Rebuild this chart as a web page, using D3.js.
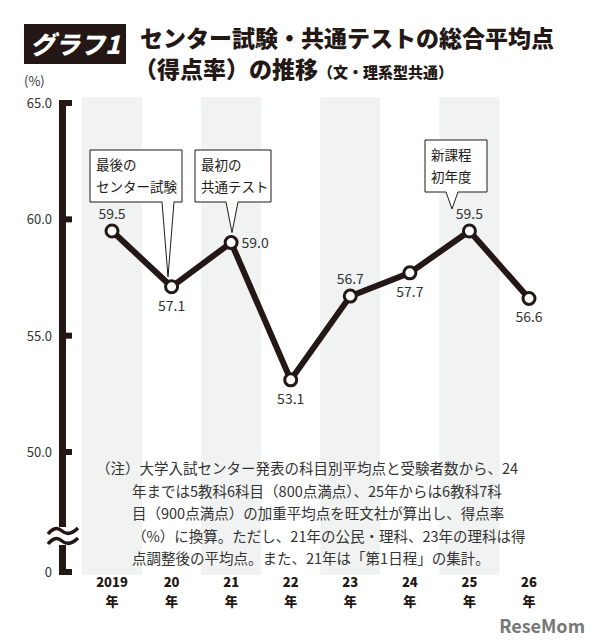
<!DOCTYPE html>
<html><head><meta charset="utf-8">
<script src="https://cdn.jsdelivr.net/npm/d3@7"></script>
<style>body{margin:0;background:#fff}text{font-family:"Noto Sans CJK JP","Noto Sans",sans-serif}</style>
</head><body><div id="vis"></div>
<script>
// data
const years = ['2019', '20', '21', '22', '23', '24', '25', '26'];
const values = [59.5, 57.1, 59.0, 53.1, 56.7, 57.7, 59.5, 56.6];
const labelPos = ['above', 'below', 'right', 'below', 'above', 'below', 'above', 'below'];
const yTicks = [65, 60, 55, 50];
const callouts = [
    { i: 1, lines: ['最後の', 'センター試験'], x: 90, y: 150, w: 92, tipX: 168, gap: 10 },
    { i: 2, lines: ['最初の', '共通テスト'], x: 195, y: 150, w: 76, tipX: 232, gap: 10 },
    { i: 6, lines: ['新課程', '初年度'], x: 425, y: 140, w: 62, tipX: 452, gap: 22 }
];
const note = [
    '（注）大学入試センター発表の科目別平均点と受験者数から、24',
    '年までは5教科6科目（800点満点）、25年からは6教科7科',
    '目（900点満点）の加重平均点を旺文社が算出し、得点率',
    '（%）に換算。ただし、21年の公民・理科、23年の理科は得',
    '点調整後の平均点。また、21年は「第1日程」の集計。'
];

const dark = '#231815';
const svg = d3.select('#vis').append('svg').attr('width', 599).attr('height', 640);

const x = d3.scalePoint().domain(years).range([112, 529]);
const y = d3.scaleLinear().domain([50, 65]).range([452, 103]);
const zeroY = 572;

// title
svg.append('rect').attr('x', 24).attr('y', 24).attr('width', 102).attr('height', 40).attr('fill', dark);
svg.append('text').attr('x', 75).attr('y', 54).attr('text-anchor', 'middle').attr('fill', '#fff')
    .attr('font-size', 25).attr('font-weight', 900).attr('font-style', 'italic').text('グラフ1');
svg.append('text').attr('x', 140).attr('y', 47).attr('font-size', 23).attr('font-weight', 900).attr('fill', dark)
    .text('センター試験・共通テストの総合平均点');
const t2 = svg.append('text').attr('x', 134).attr('y', 78).attr('font-weight', 900).attr('fill', dark);
t2.append('tspan').attr('font-size', 23).text('（得点率）の推移');
t2.append('tspan').attr('font-size', 15).text('（文・理系型共通）');

// bands
years.forEach((d, i) => {
    if (i % 2 === 0 && i < 7)
        svg.append('rect').attr('x', x(d) - 30).attr('y', 97).attr('width', 60)
            .attr('height', zeroY + 3 - 97).attr('fill', '#f1f2f2');
});

// axis
svg.append('rect').attr('x', 59).attr('y', 100).attr('width', 7).attr('height', zeroY + 3 - 100).attr('fill', dark);
yTicks.forEach(v => {
    svg.append('rect').attr('x', 62).attr('y', y(v) - 3).attr('width', 10).attr('height', 6).attr('fill', dark);
    svg.append('text').attr('x', 52).attr('y', y(v) + 5).attr('text-anchor', 'end')
        .attr('font-size', 13).attr('fill', '#333').text(v.toFixed(1));
});
svg.append('rect').attr('x', 62).attr('y', zeroY - 3).attr('width', 10).attr('height', 6).attr('fill', dark);
svg.append('text').attr('x', 52).attr('y', zeroY + 5).attr('text-anchor', 'end').attr('font-size', 13).attr('fill', '#333').text('0');
svg.append('text').attr('x', 24).attr('y', 86).attr('font-size', 13).attr('fill', '#333').text('(%)');
// break mark
svg.append('rect').attr('x', 48).attr('y', 527).attr('width', 30).attr('height', 18).attr('fill', '#fff');
[531, 541].forEach(yy => svg.append('path')
    .attr('d', `M48,${yy + 3} Q55,${yy - 6} 62,${yy} T78,${yy - 3}`)
    .attr('fill', 'none').attr('stroke', dark).attr('stroke-width', 3.5));

// x labels
years.forEach(d => {
    svg.append('text').attr('x', x(d)).attr('y', 587).attr('text-anchor', 'middle')
        .attr('font-size', 13).attr('font-weight', 900).attr('fill', dark).text(d);
    svg.append('text').attr('x', x(d)).attr('y', 606).attr('text-anchor', 'middle')
        .attr('font-size', 13).attr('font-weight', 900).attr('fill', dark).text('年');
});

// line
const line = d3.line().x((d, i) => x(years[i])).y(d => y(d));
svg.append('path').datum(values).attr('d', line).attr('fill', 'none')
    .attr('stroke', dark).attr('stroke-width', 6).attr('stroke-linejoin', 'miter');
svg.selectAll('circle.pt').data(values).join('circle').attr('class', 'pt')
    .attr('cx', (d, i) => x(years[i])).attr('cy', d => y(d)).attr('r', 6)
    .attr('fill', '#fff').attr('stroke', dark).attr('stroke-width', 3);

// value labels
values.forEach((v, i) => {
    const p = labelPos[i];
    const lx = p === 'right' ? x(years[i]) + 24 : x(years[i]);
    const ly = p === 'above' ? y(v) - 12 : p === 'below' ? y(v) + 24 : y(v) + 5;
    svg.append('text').attr('x', lx).attr('y', ly).attr('text-anchor', 'middle')
        .attr('font-size', 14).attr('fill', '#333').text(v.toFixed(1));
});

// callouts
callouts.forEach(c => {
    const h = c.lines.length * 22 + 8;
    const tipY = y(values[c.i]) - c.gap;
    const bx = c.tipX - 8;
    svg.append('path')
        .attr('d', `M${c.x},${c.y} H${c.x + c.w} V${c.y + h} H${bx + 14} L${c.tipX},${tipY} L${bx + 2},${c.y + h} H${c.x} Z`)
        .attr('fill', '#fff').attr('stroke', dark).attr('stroke-width', 1);
    c.lines.forEach((l, j) => svg.append('text').attr('x', c.x + 6).attr('y', c.y + 20 + j * 22)
        .attr('font-size', 13.5).attr('fill', dark).text(l));
});

// note
note.forEach((l, j) => svg.append('text').attr('x', j === 0 ? 96 : 132).attr('y', 474 + j * 22.5)
    .attr('font-size', 14.5).attr('fill', '#333').text(l));

// logo
svg.append('text').attr('x', 585).attr('y', 633).attr('text-anchor', 'end').attr('font-size', 18)
    .attr('font-weight', 700).attr('fill', '#777').attr('font-family', 'Roboto').text('ReseMom');
</script></body></html>
